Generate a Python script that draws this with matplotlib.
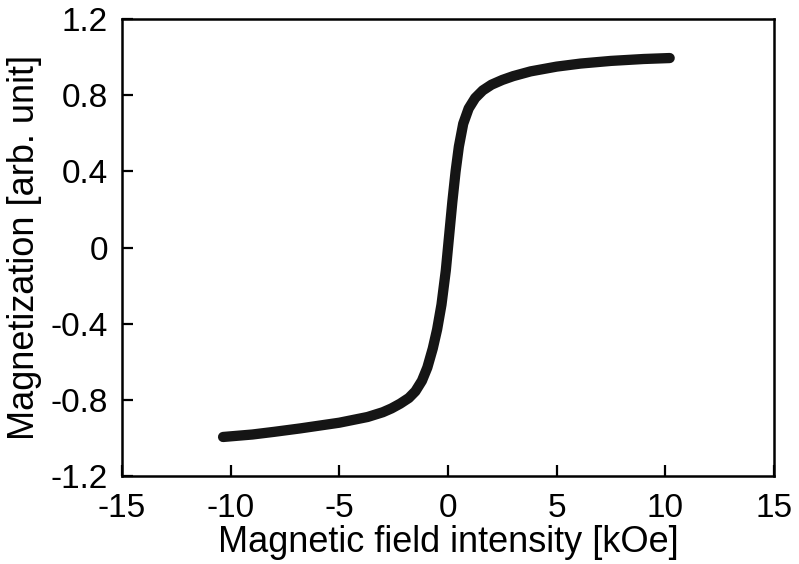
import matplotlib
matplotlib.use("Agg")
import matplotlib.pyplot as plt

plt.rcParams['font.family'] = ['Liberation Sans', 'DejaVu Sans']
plt.rcParams['axes.unicode_minus'] = False

# magnetization curve
field = [-10.35, -9.0, -8.0, -6.8, -5.0, -3.7, -3.0, -2.6, -2.2, -1.8, -1.5, -1.2,
         -0.95, -0.7, -0.5, -0.3, -0.1, 0.05, 0.2, 0.35, 0.5, 0.7, 0.95, 1.25, 1.6,
         2.0, 2.5, 3.0, 3.8, 5.0, 6.1, 7.5, 9.0, 10.2]
magn = [-0.995, -0.982, -0.968, -0.95, -0.92, -0.89, -0.865, -0.845, -0.82, -0.79, -0.755, -0.70,
        -0.63, -0.53, -0.43, -0.30, -0.12, 0.06, 0.24, 0.40, 0.53, 0.65, 0.73, 0.785, 0.825,
        0.855, 0.88, 0.90, 0.925, 0.95, 0.966, 0.98, 0.99, 0.995]

xticks = [-15, -10, -5, 0, 5, 10, 15]
yticks = [-1.2, -0.8, -0.4, 0, 0.4, 0.8, 1.2]
ytick_labels = ['-1.2', '-0.8', '-0.4', '0', '0.4', '0.8', '1.2']

fig = plt.figure(figsize=(7.99, 5.64), dpi=100)
ax = fig.add_axes([0.1527, 0.156, 0.816, 0.8103])

ax.plot(field, magn, color='#151515', lw=7.4, solid_capstyle='round', solid_joinstyle='round')

ax.set_xlim(-15, 15)
ax.set_ylim(-1.2, 1.2)
ax.set_xticks(xticks)
ax.set_xticklabels([str(t) for t in xticks])
ax.set_yticks(yticks)
ax.set_yticklabels(ytick_labels)

for s in ax.spines.values():
    s.set_linewidth(1.8)
ax.tick_params(direction='in', length=8, width=1.6, labelsize=24, top=False, right=False)
ax.tick_params(axis='x', pad=12)
ax.tick_params(axis='y', pad=10)

ax.set_xlabel('Magnetic field intensity [kOe]', fontsize=26, labelpad=1)
ax.set_ylabel('Magnetization [arb. unit]', fontsize=26, labelpad=6)

fig.savefig('out.png', dpi=100)
